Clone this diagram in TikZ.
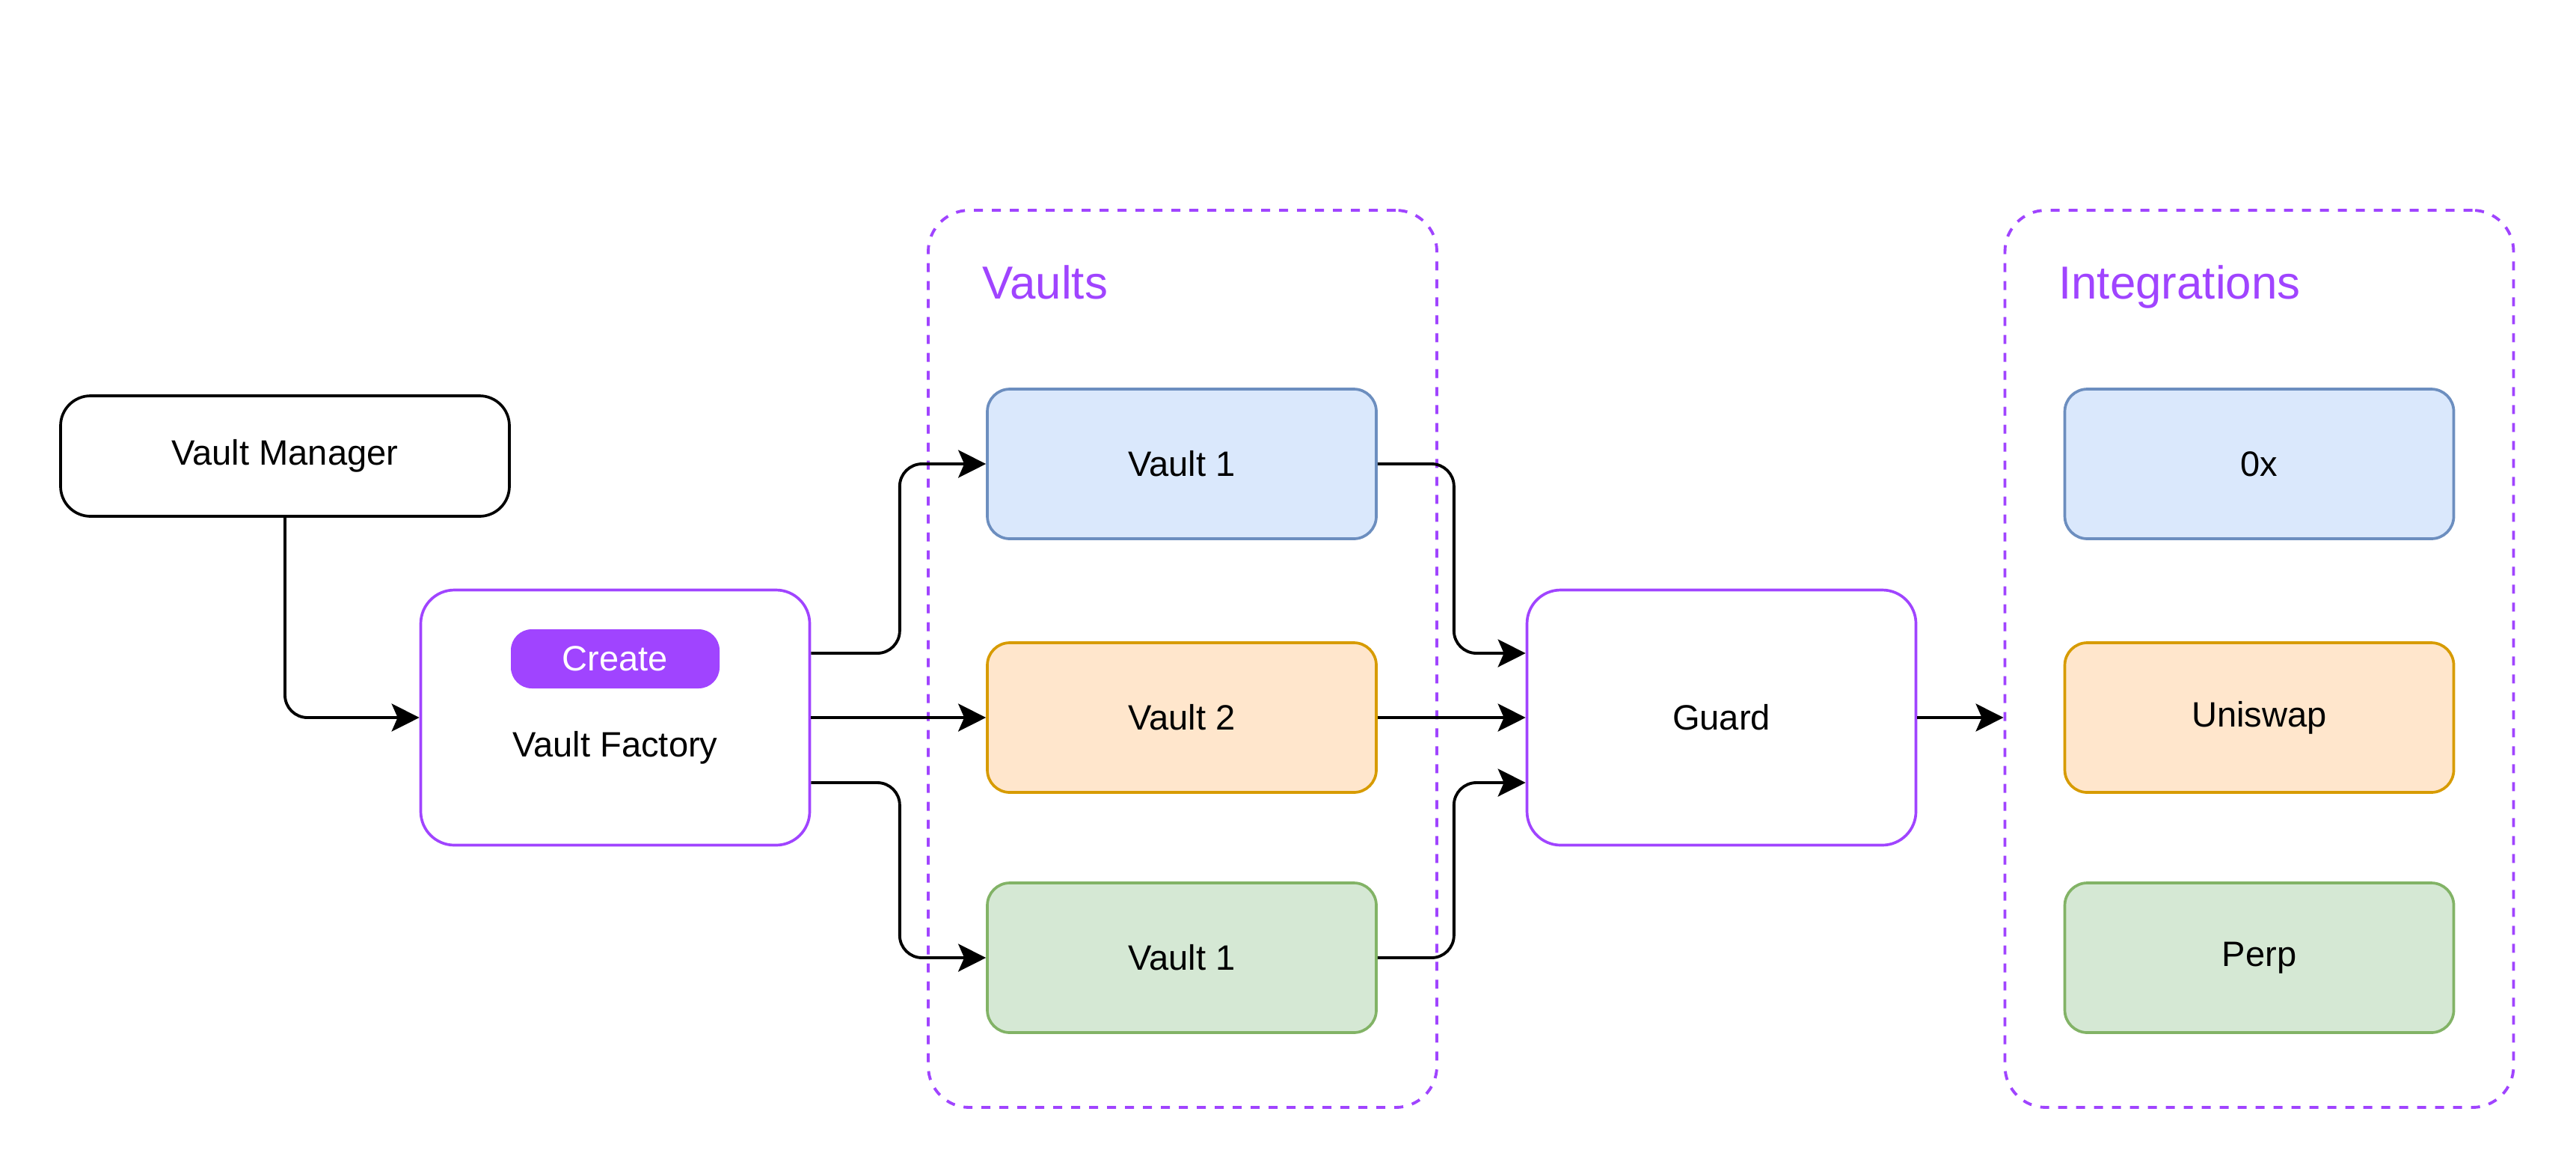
\documentclass[tikz,border=0pt]{standalone}
\usepackage{fontspec}
\setmainfont{Liberation Sans}
\usetikzlibrary{arrows.meta,positioning,calc}
\definecolor{vaultpurple}{RGB}{160,68,255}
\definecolor{bluefill}{HTML}{DAE8FC}
\definecolor{bluedraw}{HTML}{6C8EBF}
\definecolor{orangefill}{HTML}{FFE6CC}
\definecolor{orangedraw}{HTML}{D79B00}
\definecolor{greenfill}{HTML}{D5E8D4}
\definecolor{greendraw}{HTML}{82B366}

\begin{document}
\begin{tikzpicture}[
  lbl/.style={font=\fontsize{13.4}{16}\selectfont},
  mgrbox/.style={draw, rounded corners=0.4cm, line width=1.05pt, minimum width=6cm, minimum height=1.61cm, lbl},
  corebox/.style={draw=vaultpurple, rounded corners=0.45cm, line width=1.05pt, minimum width=5.2cm, minimum height=3.41cm, lbl},
  pill/.style={fill=vaultpurple, rounded corners=0.28cm, minimum width=2.79cm, minimum height=0.79cm, text=white, lbl},
  group/.style={draw=vaultpurple, dash pattern=on 0.12cm off 0.12cm, rounded corners=0.55cm, line width=1.1pt, minimum width=6.8cm, minimum height=11.99cm},
  grouptitle/.style={text=vaultpurple, font=\fontsize{17.6}{20}\selectfont, anchor=base west, inner sep=0pt},
  slot/.style={rounded corners=0.3cm, line width=1.05pt, minimum width=5.2cm, minimum height=2cm, lbl},
  arr/.style={-{Stealth[length=0.37cm, width=0.37cm, inset=0.08cm]}, line width=1.1pt, rounded corners=0.3cm},
]
\useasboundingbox (0,0) rectangle (34.44,-15.64);

% manager and factory
\node[mgrbox] (mgr) at (3.81,-6.095) {Vault Manager};
\node[corebox] (factory) at (8.225,-9.59) {};
\node[pill] (create) at (8.225,-8.805) {Create};
\node[lbl] (factorylbl) at (8.225,-9.99) {Vault Factory};

% vaults group
\node[group] (vaults) at (15.81,-8.805) {};
\node[grouptitle] (vaultstitle) at ([xshift=0.74cm, yshift=-1.2cm]vaults.north west) {Vaults};
\node[slot, fill=bluefill, draw=bluedraw] (v1) at (15.80,-6.20) {Vault 1};
\node[slot, fill=orangefill, draw=orangedraw] (v2) at (15.80,-9.59) {Vault 2};
\node[slot, fill=greenfill, draw=greendraw] (v3) at (15.80,-12.80) {Vault 1};

\node[corebox] (guard) at (23.015,-9.59) {Guard};

% integrations group
\node[group] (intg) at (30.205,-8.805) {};
\node[grouptitle] (intgtitle) at ([xshift=0.73cm, yshift=-1.2cm]intg.north west) {Integrations};
\node[slot, fill=bluefill, draw=bluedraw] (zrx) at (30.205,-6.20) {0x};
\node[slot, fill=orangefill, draw=orangedraw] (uni) at (30.205,-9.59) {Uniswap};
\node[slot, fill=greenfill, draw=greendraw] (perp) at (30.205,-12.80) {Perp};

% connectors
\draw[arr] (mgr.south) |- (factory.west);
\draw[arr] ([yshift=0.86cm]factory.east) -- ++(1.185,0) |- (v1.west);
\draw[arr] (factory.east) -- (v2.west);
\draw[arr] ([yshift=-0.87cm]factory.east) -- ++(1.185,0) |- (v3.west);
\draw[arr] (v1.east) -- ++(1.02,0) |- ([yshift=0.86cm]guard.west);
\draw[arr] (v2.east) -- (guard.west);
\draw[arr] (v3.east) -- ++(1.02,0) |- ([yshift=-0.87cm]guard.west);
\draw[arr] (guard.east) -- (guard.east -| intg.west);
\end{tikzpicture}
\end{document}
